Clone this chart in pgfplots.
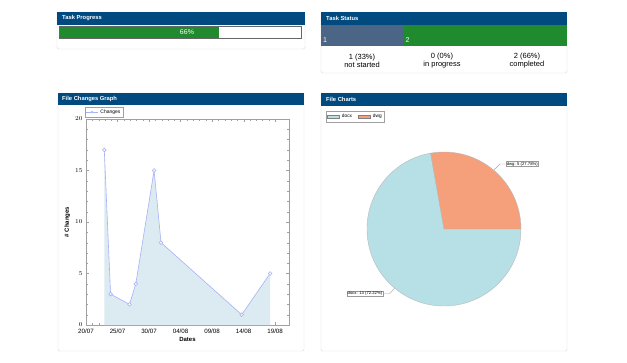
\documentclass[border=0pt]{standalone}
\usepackage{pgfplots}
\pgfplotsset{compat=1.18}
\usepackage{pgfplotstable}
\usepackage{fontspec}
\setmainfont{Liberation Sans}
\definecolor{hdr}{RGB}{0,74,128}
\definecolor{pgreen}{RGB}{32,138,46}
\definecolor{slate}{RGB}{74,101,133}
\definecolor{pborder}{RGB}{218,218,218}
\definecolor{areafill}{RGB}{220,235,242}
\definecolor{linec}{RGB}{168,178,245}
\definecolor{docxc}{RGB}{182,224,230}
\definecolor{dwgc}{RGB}{245,160,122}
\definecolor{axgray}{RGB}{160,160,160}
\newcommand{\fs}[1]{\fontsize{#1}{#1}\selectfont}

\pgfplotstableread{
day changes
2.9 17
3.9 3
6.9 2
7.9 4
10.8 15
11.9 8
24.7 1
29.2 5
}\changestable

\begin{document}
\begin{tikzpicture}[x=1pt,y=1pt]
\fill[white] (0,0) rectangle (627,362);
\useasboundingbox (0,0) rectangle (627,362);

% ---------- Panel 1: Task Progress
\draw[pborder, fill=white, rounded corners=1.5] (57,362-49) rectangle (305,362-12);
\fill[hdr] (57,362-25) rectangle (305,362-12);
\node[anchor=west, text=white, font=\fs{5.8}\bfseries, inner sep=0] at (62,362-18.5) {Task Progress};
\begin{axis}[at={(60pt,323.7pt)}, anchor=south west, scale only axis,
  width=241pt, height=11pt, xmin=0, xmax=100, ymin=0, ymax=1,
  hide axis, clip=false]
\addplot[xbar, fill=pgreen, draw=none, bar width=11pt] coordinates {(66,0.5)};
\end{axis}
\node[text=white, font=\fs{7}] at (187,362-32.5) {66\%};
\draw[gray!80!black, line width=0.6] (59.3,362-38.3) rectangle (301,362-26.7);

% ---------- Panel 2: Task Status
\draw[pborder, fill=white, rounded corners=1.5] (321,362-73) rectangle (567,362-12);
\fill[hdr] (321,362-25.5) rectangle (567,362-12);
\node[anchor=west, text=white, font=\fs{5.8}\bfseries, inner sep=0] at (326,362-18.5) {Task Status};
\begin{axis}[at={(321pt,316.3pt)}, anchor=south west, scale only axis,
  width=246pt, height=20.2pt, xmin=0, xmax=3, ymin=0, ymax=1,
  hide axis, clip=false, xbar stacked, bar width=20.2pt]
\addplot[fill=slate, draw=none] coordinates {(1,0.5)};
\addplot[fill=pgreen, draw=none] coordinates {(0,0.5)};
\addplot[fill=pgreen, draw=none] coordinates {(2,0.5)};
\end{axis}
\node[anchor=base west, text=white, font=\fs{7}, inner sep=0] at (323,362-43) {1};
\node[anchor=base west, text=white, font=\fs{7}, inner sep=0] at (405.5,362-43) {2};
\node[align=center, font=\fontsize{7.5}{8}\selectfont, inner sep=0] at (362,362-61) {1 (33\%)\\not started};
\node[align=center, font=\fontsize{7.5}{8}\selectfont, inner sep=0] at (442,362-61) {0 (0\%)\\in progress};
\node[align=center, font=\fontsize{7.5}{8}\selectfont, inner sep=0] at (527,362-61) {2 (66\%)\\completed};

% ---------- Panel 3: File Changes Graph
\draw[pborder, fill=white, rounded corners=1.5] (58,362-351) rectangle (304,362-93);
\fill[hdr] (58,362-105.5) rectangle (304,362-93);
\node[anchor=west, text=white, font=\fs{5.8}\bfseries, inner sep=0] at (62,362-99.3) {File Changes Graph};
\begin{axis}[at={(86pt,37pt)}, anchor=south west, scale only axis,
  width=203pt, height=206pt,
  xmin=0, xmax=32.2, ymin=0, ymax=20,
  xtick={0,5,10,15,20,25,30},
  xticklabels={20/07,25/07,30/07,04/08,09/08,14/08,19/08},
  ytick={0,5,10,15,20},
  minor x tick num=4, minor y tick num=4,
  tick align=inside, axis line style={axgray}, tick style={axgray},
  major tick length=3pt, minor tick length=1.6pt,
  tick label style={font=\fs{6.2}},
  xticklabel style={yshift=0pt},
  xlabel={Dates}, ylabel={\# Changes},
  label style={font=\fs{6}\bfseries},
  xlabel style={yshift=3pt}, ylabel style={yshift=-2pt},
  legend style={at={(0,1)}, anchor=south west, yshift=1.5pt, xshift=-1pt,
    font=\fs{5}, inner sep=0.6pt, draw=axgray, row sep=-1pt},
  legend image code/.code={\draw[#1, mark repeat=2, mark phase=2, mark size=1pt]
    plot coordinates {(0pt,0pt) (6pt,0pt) (12pt,0pt)};},
]
\addplot[fill=areafill, draw=none, forget plot] table[x=day, y=changes] {\changestable} \closedcycle;
\addplot[linec, line width=0.6pt, mark=*, mark size=1.9pt,
  mark options={fill=white!70!areafill, draw=linec}] table[x=day, y=changes] {\changestable};
\legend{Changes}
\end{axis}

% ---------- Panel 4: File Charts
\draw[pborder, fill=white, rounded corners=1.5] (321,362-351) rectangle (567,362-93);
\fill[hdr] (321,362-106) rectangle (567,362-93);
\node[anchor=west, text=white, font=\fs{5.8}\bfseries, inner sep=0] at (326,362-99.5) {File Charts};
\def\docxval{13}
\def\dwgval{5}
\pgfmathsetmacro{\dwgang}{360*\dwgval/(\docxval+\dwgval)}
\begin{axis}[at={(444pt,133pt)}, anchor=center, scale only axis,
  width=154pt, height=154pt, xmin=-1, xmax=1, ymin=-1, ymax=1,
  hide axis, clip=false,
  legend columns=2,
  legend style={at={(-0.266,1.266)}, anchor=north west, font=\fs{4.8},
    draw=axgray, inner sep=0.8pt, row sep=-1pt,
    /tikz/every odd column/.append style={column sep=1pt},
    /tikz/every even column/.append style={column sep=4pt}},
  legend image code/.code={\draw[#1] (0pt,-1.3pt) rectangle (11.5pt,1.3pt);},
]
\addlegendimage{fill=docxc, draw=gray}
\addlegendimage{fill=dwgc, draw=gray}
\legend{docx, dwg}
\filldraw[fill=docxc, draw=gray!55, line width=0.4pt] (axis cs:0,0) -- (axis cs:{cos(\dwgang)},{sin(\dwgang)})
  arc[start angle=\dwgang, end angle=360, radius=77pt] -- cycle;
\filldraw[fill=dwgc, draw=gray!55, line width=0.4pt] (axis cs:0,0) -- (axis cs:1,0)
  arc[start angle=0, end angle=\dwgang, radius=77pt] -- cycle;
\end{axis}
% pie labels
\draw[gray!70, line width=0.4] (494,362-170) -- (500,362-164) -- (506,362-164);
\node[draw=gray!80, fill=white, font=\fs{4.2}, inner sep=0.6pt, anchor=west] at (506,362-164) {dwg: 5 (27.78\%)};
\draw[gray!70, line width=0.4] (394.5,362-288) -- (390,362-293.5) -- (383,362-293.5);
\node[draw=gray!80, fill=white, font=\fs{4.2}, inner sep=0.6pt, anchor=east] at (383,362-293.5) {docx: 13 (72.22\%)};
\end{tikzpicture}
\end{document}
